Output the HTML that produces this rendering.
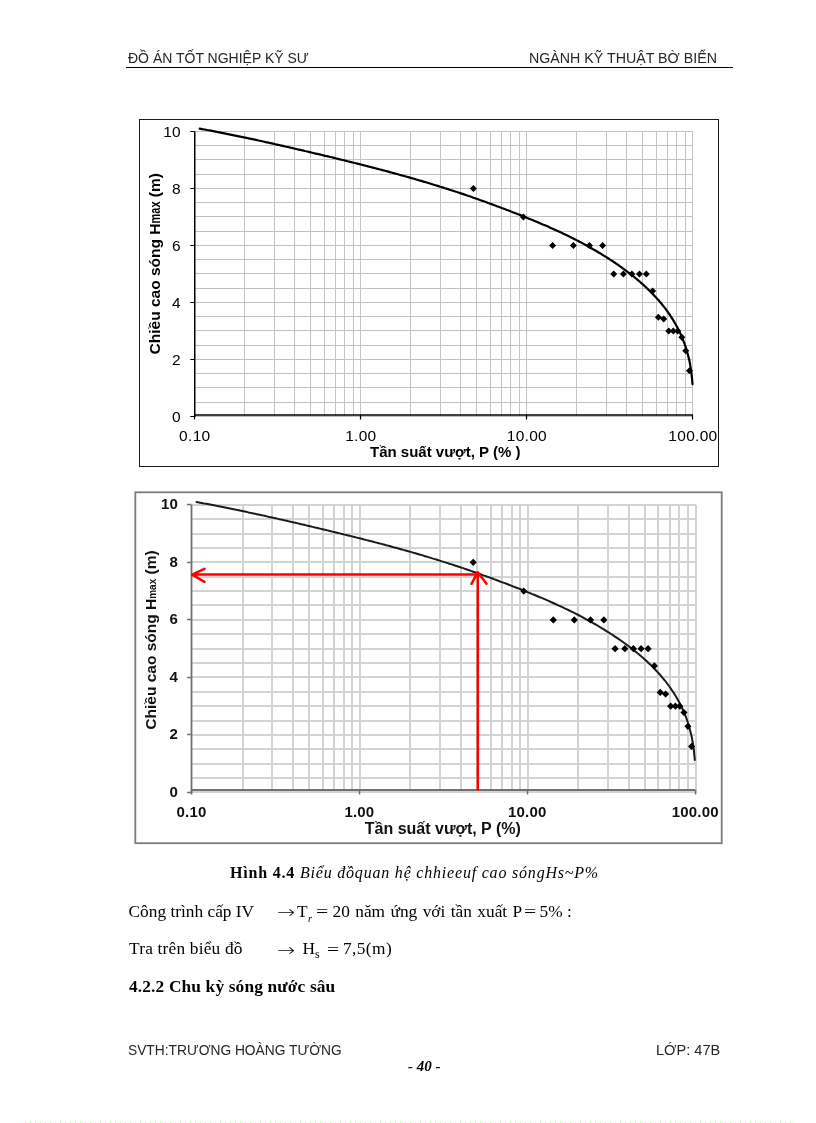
<!DOCTYPE html>
<html lang="vi"><head><meta charset="utf-8"><title>Hình 4.4</title>
<style>
html,body{margin:0;padding:0;background:#fff;}
body{width:816px;height:1123px;position:relative;overflow:hidden;color:#000;}
.t{position:absolute;white-space:nowrap;line-height:1;transform-origin:0 0;}
.sans{font-family:"Liberation Sans",Arial,sans-serif;}
.serif{font-family:"Liberation Serif","Times New Roman",serif;}
.b17{font-size:17.33px;}
.ar{font-family:"DejaVu Sans",sans-serif;font-weight:200;font-size:17.33px;transform:scaleX(1.25);}
.eq{transform:scaleX(1.25);}
svg{position:absolute;left:0;top:0;}
</style></head><body>
<div class="t sans" id="h1" style="left:128px;top:49.5px;font-size:15.3px;transform:scaleX(0.915);color:#262626;">ĐỒ ÁN TỐT NGHIỆP KỸ SƯ</div>
<div class="t sans" id="h2" style="left:529px;top:49.5px;font-size:15.3px;transform:scaleX(0.93);color:#262626;">NGÀNH KỸ THUẬT BỜ BIỂN</div>
<div style="position:absolute;left:126px;top:67px;width:607px;height:1px;background:#000;"></div>
<svg width="816" height="1123" viewBox="0 0 816 1123">
<!--C1-->
<rect x="139.5" y="119.5" width="579.0" height="347.0" fill="none" stroke="#1a1a1a" stroke-width="1"/>
<path d="M244.5 131.5V416.5M274.5 131.5V416.5M294.5 131.5V416.5M310.5 131.5V416.5M324.5 131.5V416.5M335.5 131.5V416.5M344.5 131.5V416.5M353.5 131.5V416.5M360.5 131.5V416.5M410.5 131.5V416.5M440.5 131.5V416.5M460.5 131.5V416.5M476.5 131.5V416.5M490.5 131.5V416.5M501.5 131.5V416.5M510.5 131.5V416.5M519.5 131.5V416.5M526.5 131.5V416.5M576.5 131.5V416.5M606.5 131.5V416.5M626.5 131.5V416.5M642.5 131.5V416.5M656.5 131.5V416.5M667.5 131.5V416.5M676.5 131.5V416.5M685.5 131.5V416.5M692.5 131.5V416.5" stroke="#c4c4c4" stroke-width="1" stroke-dasharray="none" fill="none" shape-rendering="crispEdges"/>
<path d="M194.5 416.5H692.5M194.5 402.5H692.5M194.5 387.5H692.5M194.5 373.5H692.5M194.5 359.5H692.5M194.5 345.5H692.5M194.5 330.5H692.5M194.5 316.5H692.5M194.5 302.5H692.5M194.5 288.5H692.5M194.5 273.5H692.5M194.5 259.5H692.5M194.5 245.5H692.5M194.5 231.5H692.5M194.5 216.5H692.5M194.5 202.5H692.5M194.5 188.5H692.5M194.5 174.5H692.5M194.5 159.5H692.5M194.5 145.5H692.5M194.5 131.5H692.5" stroke="#c4bec7" stroke-width="1" stroke-dasharray="none" fill="none" shape-rendering="crispEdges"/>
<path d="M194.75 131.40V417.15M194.75 415.00H692.95" stroke="#000" stroke-width="1.5" fill="none"/>
<path d="M190.25 416.5H194.75M190.25 359.5H194.75M190.25 302.5H194.75M190.25 245.5H194.75M190.25 188.5H194.75M190.25 131.5H194.75M194.5 415.00V419.50M360.5 415.00V419.50M526.5 415.00V419.50M692.5 415.00V419.50" stroke="#000" stroke-width="1.2" fill="none"/>
<path d="M199.7 128.6 L202.2 129.1 L204.6 129.5 L207.1 130.0 L209.6 130.4 L212.0 130.9 L214.5 131.4 L216.9 131.9 L219.4 132.3 L221.8 132.8 L224.3 133.3 L226.7 133.8 L229.2 134.3 L231.6 134.8 L234.1 135.3 L236.5 135.8 L239.0 136.3 L241.4 136.8 L243.9 137.3 L246.3 137.8 L248.8 138.4 L251.2 138.9 L253.7 139.4 L256.1 139.9 L258.5 140.5 L261.0 141.0 L263.4 141.5 L265.9 142.1 L268.3 142.6 L270.8 143.2 L273.2 143.7 L275.6 144.3 L278.1 144.8 L280.5 145.4 L282.9 145.9 L285.4 146.5 L287.8 147.0 L290.3 147.6 L292.7 148.1 L295.1 148.7 L297.6 149.3 L300.0 149.8 L302.4 150.4 L304.9 151.0 L307.3 151.5 L309.7 152.1 L312.2 152.7 L314.6 153.3 L317.0 153.8 L319.5 154.4 L321.9 155.0 L324.3 155.6 L326.8 156.2 L329.2 156.7 L331.6 157.3 L334.1 157.9 L336.5 158.5 L338.9 159.1 L341.3 159.7 L343.8 160.3 L346.2 160.9 L348.6 161.5 L351.1 162.1 L353.5 162.7 L355.9 163.3 L358.3 163.9 L360.8 164.5 L363.2 165.1 L365.6 165.7 L368.0 166.4 L370.4 167.0 L372.9 167.6 L375.3 168.2 L377.7 168.9 L380.1 169.5 L382.5 170.1 L385.0 170.8 L387.4 171.4 L389.8 172.1 L392.2 172.7 L394.6 173.4 L397.0 174.0 L399.4 174.7 L401.8 175.4 L404.3 176.0 L406.7 176.7 L409.1 177.4 L411.5 178.1 L413.9 178.8 L416.3 179.5 L418.7 180.2 L421.1 180.9 L423.5 181.6 L425.9 182.3 L428.3 183.0 L430.7 183.7 L433.0 184.5 L435.4 185.2 L437.8 185.9 L440.2 186.7 L442.6 187.4 L445.0 188.2 L447.4 188.9 L449.7 189.7 L452.1 190.5 L454.5 191.3 L456.9 192.0 L459.2 192.8 L461.6 193.6 L464.0 194.4 L466.3 195.2 L468.7 196.0 L471.1 196.8 L473.4 197.7 L475.8 198.5 L478.2 199.3 L480.5 200.2 L482.9 201.0 L485.2 201.8 L487.6 202.7 L489.9 203.6 L492.3 204.4 L494.6 205.3 L496.9 206.2 L499.3 207.0 L501.6 207.9 L504.0 208.8 L506.3 209.7 L508.6 210.6 L511.0 211.5 L513.3 212.4 L515.6 213.3 L518.0 214.2 L520.3 215.1 L522.6 216.1 L524.9 217.0 L527.2 217.9 L529.6 218.9 L531.9 219.8 L534.2 220.8 L536.5 221.7 L538.8 222.7 L541.1 223.7 L543.4 224.7 L545.7 225.6 L548.0 226.6 L550.3 227.7 L552.6 228.7 L554.8 229.7 L557.1 230.7 L559.4 231.8 L561.6 232.8 L563.9 233.9 L566.2 235.0 L568.4 236.1 L570.7 237.2 L572.9 238.3 L575.1 239.4 L577.3 240.6 L579.6 241.7 L581.8 242.9 L584.0 244.1 L586.2 245.3 L588.3 246.5 L590.5 247.7 L592.7 249.0 L594.9 250.2 L597.0 251.5 L599.2 252.8 L601.3 254.0 L603.4 255.4 L605.6 256.7 L607.7 258.0 L609.8 259.4 L611.9 260.7 L614.0 262.1 L616.0 263.5 L618.1 264.9 L620.1 266.4 L622.2 267.8 L624.2 269.3 L626.2 270.8 L628.2 272.3 L630.2 273.8 L632.1 275.4 L634.1 276.9 L636.0 278.5 L637.9 280.1 L639.8 281.7 L641.7 283.4 L643.6 285.1 L645.4 286.8 L647.2 288.5 L649.0 290.2 L650.8 292.0 L652.5 293.8 L654.3 295.6 L656.0 297.4 L657.6 299.3 L659.3 301.1 L660.9 303.0 L662.5 305.0 L664.0 306.9 L665.6 308.9 L667.0 310.9 L668.5 313.0 L669.9 315.0 L671.3 317.1 L672.6 319.2 L673.9 321.4 L675.2 323.5 L676.4 325.7 L677.6 327.9 L678.7 330.1 L679.8 332.4 L680.9 334.7 L681.9 336.9 L682.8 339.3 L683.7 341.6 L684.6 343.9 L685.4 346.3 L686.2 348.7 L686.9 351.1 L687.6 353.5 L688.2 355.9 L688.8 358.3 L689.4 360.8 L689.9 363.2 L690.3 365.7 L690.7 368.1 L691.1 370.6 L691.4 373.1 L691.7 375.6 L692.0 378.0 L692.2 380.5 L692.4 383.0 L692.5 384.2" stroke="#000" stroke-width="2.2" fill="none" stroke-linejoin="round" stroke-linecap="round"/>
<path d="M473.40 184.90L476.90 188.40L473.40 191.90L469.90 188.40ZM523.38 213.40L526.88 216.90L523.38 220.40L519.88 216.90ZM552.62 241.90L556.12 245.40L552.62 248.90L549.12 245.40ZM573.37 241.90L576.87 245.40L573.37 248.90L569.87 245.40ZM589.46 241.90L592.96 245.40L589.46 248.90L585.96 245.40ZM602.61 241.90L606.11 245.40L602.61 248.90L599.11 245.40ZM613.72 270.40L617.22 273.90L613.72 277.40L610.22 273.90ZM623.35 270.40L626.85 273.90L623.35 277.40L619.85 273.90ZM631.85 270.40L635.35 273.90L631.85 277.40L628.35 273.90ZM639.45 270.40L642.95 273.90L639.45 277.40L635.95 273.90ZM646.32 270.40L649.82 273.90L646.32 277.40L642.82 273.90ZM652.59 287.50L656.09 291.00L652.59 294.50L649.09 291.00ZM658.37 313.72L661.87 317.22L658.37 320.72L654.87 317.22ZM663.71 315.43L667.21 318.93L663.71 322.43L660.21 318.93ZM668.69 327.40L672.19 330.90L668.69 334.40L665.19 330.90ZM673.34 327.40L676.84 330.90L673.34 334.40L669.84 330.90ZM677.71 327.40L681.21 330.90L677.71 334.40L674.21 330.90ZM681.83 333.67L685.33 337.17L681.83 340.67L678.33 337.17ZM685.73 347.35L689.23 350.85L685.73 354.35L682.23 350.85ZM689.43 367.30L692.93 370.80L689.43 374.30L685.93 370.80Z" fill="#000"/>
<g font-family="Liberation Sans, Arial, sans-serif" font-size="15.5" font-weight="normal" fill="#000" letter-spacing="0.3"><text x="181" y="421.70" text-anchor="end">0</text><text x="181" y="364.70" text-anchor="end">2</text><text x="181" y="307.70" text-anchor="end">4</text><text x="181" y="250.70" text-anchor="end">6</text><text x="181" y="193.70" text-anchor="end">8</text><text x="181" y="136.70" text-anchor="end">10</text><text x="194.80" y="440.8" text-anchor="middle">0.10</text><text x="360.85" y="440.8" text-anchor="middle">1.00</text><text x="526.90" y="440.8" text-anchor="middle">10.00</text><text x="692.95" y="440.8" text-anchor="middle">100.00</text></g>
<text transform="translate(160.3,354.4) rotate(-90)" font-family="Liberation Sans, Arial, sans-serif" font-size="15.5" font-weight="bold">Chiều cao sóng H<tspan textLength="22" lengthAdjust="spacingAndGlyphs">max</tspan> (m)</text>
<text x="445.2" y="457.3" text-anchor="middle" font-family="Liberation Sans, Arial, sans-serif" font-size="15" font-weight="bold">Tần suất vượt, P (% )</text>
<!--C2-->
<rect x="135.3" y="492.3" width="586.4000000000001" height="350.90000000000003" fill="none" stroke="#7c7c7c" stroke-width="1.8"/>
<path d="M243.0 504.5V792.5M272.0 504.5V792.5M293.0 504.5V792.5M309.0 504.5V792.5M323.0 504.5V792.5M334.0 504.5V792.5M344.0 504.5V792.5M352.0 504.5V792.5M360.0 504.5V792.5M410.0 504.5V792.5M440.0 504.5V792.5M461.0 504.5V792.5M477.0 504.5V792.5M491.0 504.5V792.5M502.0 504.5V792.5M512.0 504.5V792.5M520.0 504.5V792.5M528.0 504.5V792.5M578.0 504.5V792.5M608.0 504.5V792.5M629.0 504.5V792.5M645.0 504.5V792.5M658.0 504.5V792.5M670.0 504.5V792.5M679.0 504.5V792.5M688.0 504.5V792.5M696.0 504.5V792.5" stroke="#d3d3d3" stroke-width="2" stroke-dasharray="none" fill="none" shape-rendering="crispEdges"/>
<path d="M191.5 792.0H695.5M191.5 778.0H695.5M191.5 764.0H695.5M191.5 749.0H695.5M191.5 735.0H695.5M191.5 721.0H695.5M191.5 706.0H695.5M191.5 692.0H695.5M191.5 677.0H695.5M191.5 663.0H695.5M191.5 649.0H695.5M191.5 634.0H695.5M191.5 620.0H695.5M191.5 605.0H695.5M191.5 591.0H695.5M191.5 577.0H695.5M191.5 562.0H695.5M191.5 548.0H695.5M191.5 534.0H695.5M191.5 519.0H695.5M191.5 505.0H695.5" stroke="#d3d3d3" stroke-width="2" stroke-dasharray="none" fill="none" shape-rendering="crispEdges"/>
<path d="M191.50 504.80V793.40M191.50 790.00H695.20" stroke="#707070" stroke-width="1.8" fill="none"/>
<path d="M187.00 792.5H191.50M187.00 734.5H191.50M187.00 677.5H191.50M187.00 619.5H191.50M187.00 562.5H191.50M187.00 504.5H191.50M191.5 790.00V794.50M359.5 790.00V794.50M527.5 790.00V794.50M695.5 790.00V794.50" stroke="#707070" stroke-width="1.5" fill="none"/>
<path d="M196.5 502.0 L199.0 502.4 L201.5 502.9 L203.9 503.4 L206.4 503.8 L208.9 504.3 L211.4 504.8 L213.9 505.3 L216.4 505.8 L218.8 506.2 L221.3 506.7 L223.8 507.2 L226.3 507.7 L228.7 508.2 L231.2 508.7 L233.7 509.2 L236.2 509.8 L238.6 510.3 L241.1 510.8 L243.6 511.3 L246.1 511.8 L248.5 512.4 L251.0 512.9 L253.5 513.4 L256.0 514.0 L258.4 514.5 L260.9 515.0 L263.4 515.6 L265.8 516.1 L268.3 516.7 L270.8 517.2 L273.2 517.8 L275.7 518.3 L278.2 518.9 L280.6 519.4 L283.1 520.0 L285.6 520.6 L288.0 521.1 L290.5 521.7 L292.9 522.3 L295.4 522.8 L297.9 523.4 L300.3 524.0 L302.8 524.6 L305.3 525.1 L307.7 525.7 L310.2 526.3 L312.6 526.9 L315.1 527.5 L317.6 528.0 L320.0 528.6 L322.5 529.2 L324.9 529.8 L327.4 530.4 L329.8 531.0 L332.3 531.6 L334.8 532.2 L337.2 532.8 L339.7 533.4 L342.1 534.0 L344.6 534.6 L347.0 535.2 L349.5 535.8 L351.9 536.4 L354.4 537.0 L356.8 537.6 L359.3 538.2 L361.8 538.8 L364.2 539.5 L366.7 540.1 L369.1 540.7 L371.5 541.3 L374.0 542.0 L376.4 542.6 L378.9 543.3 L381.3 543.9 L383.8 544.5 L386.2 545.2 L388.7 545.8 L391.1 546.5 L393.5 547.2 L396.0 547.8 L398.4 548.5 L400.9 549.2 L403.3 549.9 L405.7 550.5 L408.2 551.2 L410.6 551.9 L413.0 552.6 L415.4 553.3 L417.9 554.0 L420.3 554.7 L422.7 555.4 L425.1 556.2 L427.6 556.9 L430.0 557.6 L432.4 558.4 L434.8 559.1 L437.2 559.8 L439.6 560.6 L442.1 561.4 L444.5 562.1 L446.9 562.9 L449.3 563.7 L451.7 564.4 L454.1 565.2 L456.5 566.0 L458.9 566.8 L461.3 567.6 L463.7 568.4 L466.1 569.2 L468.5 570.0 L470.9 570.9 L473.2 571.7 L475.6 572.5 L478.0 573.4 L480.4 574.2 L482.8 575.1 L485.1 575.9 L487.5 576.8 L489.9 577.6 L492.3 578.5 L494.6 579.4 L497.0 580.3 L499.4 581.2 L501.7 582.1 L504.1 582.9 L506.5 583.8 L508.8 584.7 L511.2 585.7 L513.5 586.6 L515.9 587.5 L518.3 588.4 L520.6 589.3 L523.0 590.3 L525.3 591.2 L527.6 592.1 L530.0 593.1 L532.3 594.1 L534.7 595.0 L537.0 596.0 L539.3 597.0 L541.7 597.9 L544.0 598.9 L546.3 599.9 L548.6 600.9 L550.9 602.0 L553.2 603.0 L555.5 604.0 L557.8 605.1 L560.1 606.1 L562.4 607.2 L564.7 608.3 L567.0 609.4 L569.3 610.5 L571.5 611.6 L573.8 612.7 L576.1 613.8 L578.3 615.0 L580.5 616.2 L582.8 617.4 L585.0 618.6 L587.2 619.8 L589.4 621.0 L591.6 622.2 L593.8 623.5 L596.0 624.7 L598.2 626.0 L600.4 627.3 L602.5 628.6 L604.7 629.9 L606.8 631.3 L609.0 632.6 L611.1 634.0 L613.2 635.4 L615.3 636.8 L617.4 638.2 L619.5 639.6 L621.6 641.0 L623.6 642.5 L625.7 644.0 L627.7 645.5 L629.7 647.0 L631.7 648.6 L633.7 650.1 L635.7 651.7 L637.6 653.3 L639.6 654.9 L641.5 656.6 L643.4 658.2 L645.3 659.9 L647.1 661.6 L649.0 663.4 L650.8 665.1 L652.6 666.9 L654.3 668.7 L656.1 670.5 L657.8 672.4 L659.5 674.2 L661.2 676.1 L662.8 678.1 L664.4 680.0 L666.0 682.0 L667.5 684.0 L669.0 686.0 L670.5 688.1 L671.9 690.2 L673.3 692.3 L674.7 694.4 L676.0 696.6 L677.2 698.7 L678.5 700.9 L679.7 703.2 L680.8 705.4 L681.9 707.7 L683.0 710.0 L684.0 712.3 L685.0 714.6 L685.9 717.0 L686.8 719.3 L687.6 721.7 L688.4 724.1 L689.1 726.5 L689.8 729.0 L690.4 731.4 L691.0 733.9 L691.6 736.3 L692.1 738.8 L692.5 741.3 L693.0 743.8 L693.3 746.3 L693.7 748.8 L694.0 751.3 L694.2 753.8 L694.5 756.3 L694.7 758.8 L694.8 760.0" stroke="#1a1a1a" stroke-width="2.0" fill="none" stroke-linejoin="round" stroke-linecap="round"/>
<path d="M473.20 558.74L476.80 562.34L473.20 565.94L469.60 562.34ZM523.74 587.51L527.34 591.11L523.74 594.71L520.14 591.11ZM553.31 616.28L556.91 619.88L553.31 623.48L549.71 619.88ZM574.29 616.28L577.89 619.88L574.29 623.48L570.69 619.88ZM590.56 616.28L594.16 619.88L590.56 623.48L586.96 619.88ZM603.85 616.28L607.45 619.88L603.85 623.48L600.25 619.88ZM615.09 645.05L618.69 648.65L615.09 652.25L611.49 648.65ZM624.83 645.05L628.43 648.65L624.83 652.25L621.23 648.65ZM633.42 645.05L637.02 648.65L633.42 652.25L629.82 648.65ZM641.10 645.05L644.70 648.65L641.10 652.25L637.50 648.65ZM648.05 645.05L651.65 648.65L648.05 652.25L644.45 648.65ZM654.39 662.31L657.99 665.91L654.39 669.51L650.79 665.91ZM660.23 688.78L663.83 692.38L660.23 695.98L656.63 692.38ZM665.63 690.51L669.23 694.11L665.63 697.71L662.03 694.11ZM670.67 702.59L674.27 706.19L670.67 709.79L667.07 706.19ZM675.37 702.59L678.97 706.19L675.37 709.79L671.77 706.19ZM679.79 702.59L683.39 706.19L679.79 709.79L676.19 706.19ZM683.96 708.92L687.56 712.52L683.96 716.12L680.36 712.52ZM687.90 722.73L691.50 726.33L687.90 729.93L684.30 726.33ZM691.64 742.87L695.24 746.47L691.64 750.07L688.04 746.47Z" fill="#000"/>
<g font-family="Liberation Sans, Arial, sans-serif" font-size="15" font-weight="bold" fill="#111" letter-spacing="0.2"><text x="178" y="796.80" text-anchor="end">0</text><text x="178" y="739.26" text-anchor="end">2</text><text x="178" y="681.72" text-anchor="end">4</text><text x="178" y="624.18" text-anchor="end">6</text><text x="178" y="566.64" text-anchor="end">8</text><text x="178" y="509.10" text-anchor="end">10</text><text x="191.50" y="816.9" text-anchor="middle">0.10</text><text x="359.40" y="816.9" text-anchor="middle">1.00</text><text x="527.30" y="816.9" text-anchor="middle">10.00</text><text x="695.20" y="816.9" text-anchor="middle">100.00</text></g>
<text transform="translate(156.3,729.7) rotate(-90)" font-family="Liberation Sans, Arial, sans-serif" font-size="15.5" font-weight="bold" fill="#111">Chiều cao sóng H<tspan font-size="10">max</tspan> (m)</text>
<text x="442.8" y="834" text-anchor="middle" font-family="Liberation Sans, Arial, sans-serif" font-size="16" font-weight="bold" fill="#111">Tần suất vượt, P (%)</text>
<g stroke="#ff0000" stroke-width="2.5" fill="none" stroke-linecap="round" stroke-linejoin="round">
<path d="M477.5 574.6H192.5M204.5 568.8L192.2 574.6L204.5 581.8"/>
<path d="M477.8 789.5V573M471.5 583.8L477.8 572.2L486.5 583.8"/>
</g>
<path d="M25 1122.5H792" stroke="#c6f2c6" stroke-width="1" stroke-dasharray="1 4"/>
</svg>
<div class="t serif" id="cap" style="left:230px;top:865.3px;font-size:16px;letter-spacing:0.8px;"><span style="font-weight:bold">Hình 4.4</span> <i>Biểu đồquan hệ chhieeuf cao sóngHs~P%</i></div>
<div class="t serif b17" id="l1" style="left:128.5px;top:902.6px;">Công trình cấp IV</div>
<div class="t ar" id="l1ar" style="left:276.5px;top:904.2px;">→</div>
<div class="t serif b17" id="l1b" style="left:297px;top:902.6px;">T<span style="font-size:10.5px;position:relative;top:5px;left:0.5px;font-style:italic;">r</span></div>
<div class="t serif b17 eq" id="l1eq" style="left:316px;top:903px;">=</div>
<div class="t serif b17" id="l1c" style="left:332.5px;top:902.6px;word-spacing:1.1px;">20 năm ứng với tần xuất P</div>
<div class="t serif b17 eq" id="l1eq2" style="left:523.5px;top:903px;">=</div>
<div class="t serif b17" id="l1d" style="left:539.5px;top:902.6px;">5% :</div>
<div class="t serif b17" id="l2" style="left:129px;top:940.4px;letter-spacing:0.2px;">Tra trên biểu đồ</div>
<div class="t ar" id="l2ar" style="left:276.5px;top:941.7px;">→</div>
<div class="t serif b17" id="l2b" style="left:302.5px;top:940.4px;">H<span style="font-size:12px;position:relative;top:4px;">s</span></div>
<div class="t serif b17 eq" id="l2eq" style="left:327px;top:940.8px;">=</div>
<div class="t serif b17" id="l2c" style="left:343px;top:940.4px;letter-spacing:0.4px;">7,5(m)</div>
<div class="t serif b17" id="l3" style="left:129px;top:977.9px;font-weight:bold;letter-spacing:0.15px;">4.2.2 Chu kỳ sóng nước sâu</div>
<div class="t sans" id="f1" style="left:127.5px;top:1041.5px;font-size:15.3px;transform:scaleX(0.90);color:#262626;">SVTH:TRƯƠNG HOÀNG TƯỜNG</div>
<div class="t sans" id="f2" style="left:656px;top:1041.5px;font-size:15.3px;transform:scaleX(0.95);color:#262626;">LỚP: 47B</div>
<div class="t serif" id="f3" style="left:408px;top:1059px;font-size:15px;font-weight:bold;font-style:italic;">- 40 -</div>
</body></html>
